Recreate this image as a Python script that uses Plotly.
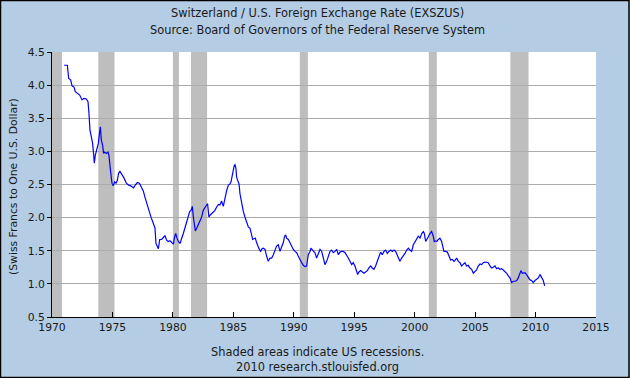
import plotly.graph_objects as go

# ---- data (decimal year, CHF per USD) ----
years = [
    1971.0, 1971.27, 1971.38, 1971.54, 1971.66, 1971.82, 1971.93, 1972.1, 1972.29, 1972.48,
    1972.65, 1972.84, 1972.98, 1973.06, 1973.14, 1973.23, 1973.36, 1973.45, 1973.5, 1973.58,
    1973.72, 1973.83, 1973.94, 1974.0, 1974.08, 1974.19, 1974.27, 1974.36, 1974.49, 1974.63,
    1974.71, 1974.8, 1974.85, 1974.96, 1975.07, 1975.18, 1975.29, 1975.4, 1975.51, 1975.62,
    1975.79, 1975.95, 1976.15, 1976.34, 1976.51, 1976.73, 1976.89, 1977.06, 1977.23, 1977.39,
    1977.56, 1977.67, 1977.78, 1977.89, 1978.05, 1978.2, 1978.35, 1978.52,
    1978.6, 1978.74, 1978.8, 1978.91, 1979.07, 1979.21, 1979.34, 1979.48, 1979.62, 1979.76,
    1979.9, 1980.04, 1980.12, 1980.23, 1980.34, 1980.45, 1980.59, 1980.72, 1980.86, 1980.99,
    1981.14, 1981.28, 1981.39, 1981.5, 1981.61, 1981.69, 1981.77, 1981.86, 1981.97, 1982.1,
    1982.24, 1982.38, 1982.51, 1982.65, 1982.79, 1982.87, 1982.98, 1983.09, 1983.21, 1983.34,
    1983.48, 1983.62, 1983.76, 1983.89, 1984.03, 1984.17, 1984.31, 1984.45, 1984.59, 1984.72,
    1984.81, 1984.91, 1984.99, 1985.08, 1985.14, 1985.22, 1985.27, 1985.36, 1985.47, 1985.55,
    1985.63, 1985.74, 1985.83, 1985.96, 1986.1, 1986.24, 1986.38, 1986.46, 1986.6, 1986.71,
    1986.82, 1986.93, 1987.04, 1987.15, 1987.26, 1987.37, 1987.48, 1987.62, 1987.75, 1987.89,
    1988.03, 1988.17, 1988.31, 1988.44, 1988.58, 1988.72, 1988.86, 1989.0, 1989.13, 1989.24,
    1989.33, 1989.41, 1989.55, 1989.69, 1989.83, 1989.96, 1990.1, 1990.24, 1990.37, 1990.51,
    1990.65, 1990.79, 1990.93, 1991.06, 1991.2, 1991.34, 1991.42, 1991.51, 1991.62, 1991.75,
    1991.89, 1992.03, 1992.17, 1992.31, 1992.44, 1992.58, 1992.72, 1992.86, 1993.0, 1993.13,
    1993.27, 1993.41, 1993.55, 1993.69, 1993.82, 1993.96, 1994.1, 1994.24, 1994.37, 1994.51,
    1994.65, 1994.79, 1994.92, 1995.06, 1995.2, 1995.28, 1995.39, 1995.53, 1995.67, 1995.81,
    1995.94, 1996.08, 1996.22, 1996.36, 1996.49, 1996.63, 1996.77, 1996.91, 1997.05, 1997.18,
    1997.32, 1997.46, 1997.6, 1997.74, 1997.87, 1998.01, 1998.15, 1998.29, 1998.43, 1998.56,
    1998.7, 1998.78, 1998.92, 1999.06, 1999.2, 1999.34, 1999.48, 1999.61, 1999.75, 1999.89,
    2000.03, 2000.16, 2000.3, 2000.44, 2000.58, 2000.72, 2000.8, 2000.91, 2001.02, 2001.13,
    2001.26, 2001.4, 2001.54, 2001.62, 2001.73, 2001.84, 2001.95, 2002.09, 2002.23, 2002.31,
    2002.42, 2002.56, 2002.7, 2002.84, 2002.97, 2003.11, 2003.25, 2003.33, 2003.47, 2003.61,
    2003.75, 2003.88, 2004.02, 2004.16, 2004.29, 2004.43, 2004.57, 2004.71, 2004.85, 2004.99,
    2005.12, 2005.26, 2005.4, 2005.54, 2005.68, 2005.81, 2005.95, 2006.09, 2006.23, 2006.36,
    2006.5, 2006.64, 2006.78, 2006.92, 2007.06, 2007.19, 2007.33, 2007.47, 2007.61, 2007.75,
    2007.88, 2008.02, 2008.16, 2008.3, 2008.44, 2008.57, 2008.71, 2008.79, 2008.9, 2008.98,
    2009.12, 2009.26, 2009.4, 2009.54, 2009.67, 2009.81, 2009.95, 2010.09, 2010.23, 2010.37,
    2010.5, 2010.64, 2010.75,
]
rates = [
    4.30, 4.30, 4.10, 4.08, 3.99, 3.97, 3.90, 3.87, 3.85, 3.78,
    3.80, 3.79, 3.75, 3.57, 3.32, 3.24, 3.12, 2.94, 2.82, 2.94,
    3.02, 3.12, 3.29, 3.37, 3.17, 3.09, 2.97, 2.99, 2.97, 2.99,
    2.94, 2.82, 2.69, 2.52, 2.48, 2.54, 2.52, 2.56, 2.67, 2.70,
    2.65, 2.60, 2.52, 2.49, 2.48, 2.45, 2.49, 2.53, 2.52, 2.47,
    2.40, 2.32, 2.25, 2.21, 2.08, 2.00, 1.93, 1.84,
    1.61, 1.56, 1.53, 1.67, 1.67, 1.70, 1.73, 1.66, 1.64, 1.65,
    1.62, 1.60, 1.69, 1.76, 1.69, 1.64, 1.61, 1.67, 1.76, 1.84,
    1.94, 2.01, 2.09, 2.11, 2.17, 2.01, 1.86, 1.80, 1.84, 1.89,
    1.94, 2.01, 2.11, 2.16, 2.19, 2.21, 2.01, 2.04, 2.06, 2.09,
    2.11, 2.16, 2.20, 2.19, 2.25, 2.17, 2.31, 2.41, 2.49, 2.51,
    2.54, 2.61, 2.71, 2.79, 2.80, 2.74, 2.61, 2.56, 2.51, 2.36,
    2.29, 2.14, 2.09, 2.01, 1.94, 1.86, 1.84, 1.77, 1.67, 1.68,
    1.69, 1.62, 1.56, 1.52, 1.49, 1.53, 1.54, 1.52, 1.42, 1.34,
    1.39, 1.39, 1.44, 1.50, 1.57, 1.59, 1.49, 1.56, 1.62, 1.72,
    1.74, 1.69, 1.67, 1.62, 1.56, 1.52, 1.49, 1.47, 1.42, 1.36,
    1.32, 1.28, 1.26, 1.27, 1.44, 1.49, 1.54, 1.52, 1.49, 1.47,
    1.39, 1.47, 1.52, 1.49, 1.37, 1.29, 1.34, 1.42, 1.49, 1.51,
    1.47, 1.49, 1.52, 1.44, 1.48, 1.49, 1.49, 1.47, 1.42, 1.39,
    1.34, 1.29, 1.32, 1.27, 1.19, 1.14, 1.18, 1.20, 1.18, 1.16,
    1.18, 1.20, 1.24, 1.27, 1.24, 1.22, 1.27, 1.34, 1.44, 1.48,
    1.44, 1.49, 1.51, 1.46, 1.49, 1.51, 1.49, 1.51, 1.49, 1.44,
    1.37, 1.34, 1.39, 1.42, 1.46, 1.51, 1.54, 1.51, 1.49, 1.59,
    1.64, 1.67, 1.72, 1.69, 1.76, 1.79, 1.76, 1.64, 1.67, 1.71,
    1.76, 1.79, 1.72, 1.64, 1.65, 1.64, 1.67, 1.69, 1.64, 1.57,
    1.49, 1.49, 1.48, 1.42, 1.36, 1.37, 1.34, 1.35, 1.39, 1.34,
    1.32, 1.27, 1.29, 1.32, 1.27, 1.28, 1.24, 1.22, 1.16, 1.19,
    1.21, 1.27, 1.30, 1.29, 1.32, 1.33, 1.32, 1.32, 1.27, 1.24,
    1.25, 1.27, 1.23, 1.24, 1.22, 1.23, 1.21, 1.19, 1.16, 1.12,
    1.09, 1.02, 1.04, 1.04, 1.05, 1.09, 1.16, 1.20, 1.16, 1.16,
    1.17, 1.14, 1.10, 1.06, 1.05, 1.02, 1.05, 1.07, 1.09, 1.14,
    1.09, 1.05, 0.97,
]

recession_starts = [1969.92, 1973.83, 1980.0, 1981.5, 1990.5, 2001.17, 2007.92]
recession_ends = [1970.83, 1975.17, 1980.5, 1982.83, 1991.17, 2001.83, 2009.42]

x_ticks = [1970, 1975, 1980, 1985, 1990, 1995, 2000, 2005, 2010, 2015]
y_ticks = [0.5, 1.0, 1.5, 2.0, 2.5, 3.0, 3.5, 4.0, 4.5]

title_lines = ["Switzerland / U.S. Foreign Exchange Rate (EXSZUS)",
               "Source: Board of Governors of the Federal Reserve System"]
footer_lines = ["Shaded areas indicate US recessions.",
                "2010 research.stlouisfed.org"]
y_title = "(Swiss Francs to One U.S. Dollar)"

# ---- layout geometry (pixels) ----
W, H = 630, 378
L, R, T, B = 52, 596, 52, 317
pw, ph = R - L, B - T


def px(xp):
    return (xp - L) / pw


def py(yp):
    return (B - yp) / ph


FONT = "DejaVu Sans"
TXT = "#1a1a1a"
BG = "#B4CDE4"

fig = go.Figure()
fig.add_trace(go.Scatter(x=years, y=rates, mode="lines",
                         line=dict(color="#0000FF", width=1.2),
                         hoverinfo="x+y", showlegend=False))

shapes = []
for s, e in zip(recession_starts, recession_ends):
    shapes.append(dict(type="rect", xref="x", yref="paper",
                       x0=max(s, 1970), x1=e, y0=0, y1=1,
                       fillcolor="#BEBEBE", line=dict(width=0), layer="between"))
# outer border of the picture
shapes.append(dict(type="rect", xref="paper", yref="paper",
                   x0=px(0.5), x1=px(W - 1), y0=py(H - 0.5), y1=py(0.5),
                   line=dict(color="#000000", width=1.5), layer="above"))

annotations = []
for i, t in enumerate(title_lines):
    annotations.append(dict(text=t, xref="paper", yref="paper",
                            x=px(317), y=py(13 + 17 * i), showarrow=False,
                            xanchor="center", yanchor="middle",
                            font=dict(family=FONT, size=11.4, color=TXT)))
for i, t in enumerate(footer_lines):
    annotations.append(dict(text=t, xref="paper", yref="paper",
                            x=px(317), y=py(352 + 15 * i), showarrow=False,
                            xanchor="center", yanchor="middle",
                            font=dict(family=FONT, size=11.4, color=TXT)))
annotations.append(dict(text=y_title, xref="paper", yref="paper",
                        x=px(13), y=py(187), showarrow=False, textangle=-90,
                        xanchor="center", yanchor="middle",
                        font=dict(family=FONT, size=10.8, color=TXT)))

fig.update_layout(
    width=W, height=H,
    margin=dict(l=L, r=W - R, t=T, b=H - B, pad=0),
    paper_bgcolor=BG, plot_bgcolor="#FFFFFF",
    shapes=shapes, annotations=annotations,
    font=dict(family=FONT, size=10.5, color=TXT),
)
fig.update_xaxes(range=[1970, 2015], tickvals=x_ticks,
                 ticktext=[str(v) for v in x_ticks],
                 showgrid=False, zeroline=False,
                 showline=True, linecolor="#000000", linewidth=1,
                 ticks="inside", ticklen=5, tickcolor="#000000",
                 tickfont=dict(family=FONT, size=10.8, color=TXT))
fig.update_yaxes(range=[0.5, 4.5], tickvals=y_ticks,
                 ticktext=[f"{v:.1f}" for v in y_ticks],
                 showgrid=True, gridcolor="#ABABAB", gridwidth=1,
                 zeroline=False,
                 showline=True, linecolor="#000000", linewidth=1,
                 ticks="outside", ticklen=4, tickcolor="#000000",
                 tickfont=dict(family=FONT, size=10.8, color=TXT))

fig.write_html("out.html",
               config={"displayModeBar": False},
               post_script="document.body.style.margin='0';"
                           "document.body.style.padding='0';"
                           "document.documentElement.style.overflow='hidden';")
